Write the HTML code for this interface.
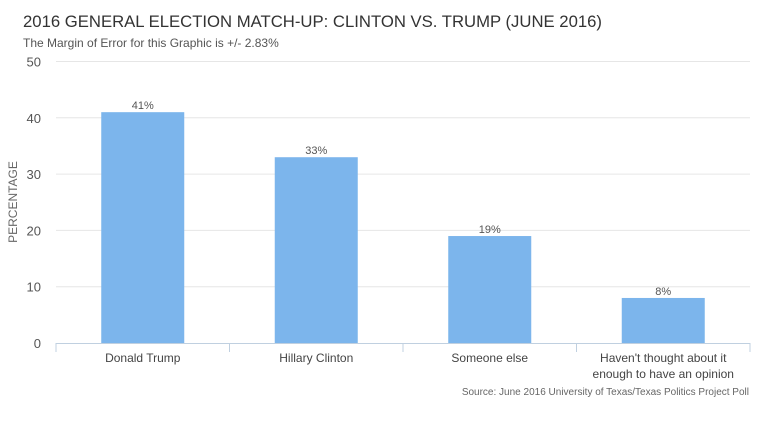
<!DOCTYPE html>
<html><head><meta charset="utf-8"><style>
body{margin:0;background:#fff;font-family:"Liberation Sans",sans-serif;}
svg text{font-family:"Liberation Sans",sans-serif;}
</style></head><body>
<svg id="chart" width="782" height="418" xmlns="http://www.w3.org/2000/svg">
<text x="23" y="27" font-size="16.7" fill="#333" textLength="579" lengthAdjust="spacingAndGlyphs">2016 GENERAL ELECTION MATCH-UP: CLINTON VS. TRUMP (JUNE 2016)</text>
<text x="23" y="47" font-size="12" fill="#555">The Margin of Error for this Graphic is +/- 2.83%</text>
<text transform="translate(17,202) rotate(-90)" text-anchor="middle" font-size="12" fill="#666">PERCENTAGE</text>
<g id="grid"></g><g id="bars"></g><g id="xaxis"></g>
<text x="749" y="395" text-anchor="end" font-size="10" fill="#666">Source: June 2016 University of Texas/Texas Politics Project Poll</text>
</svg>
<script>
const categories=["Donald Trump","Hillary Clinton","Someone else","Haven't thought about it|enough to have an opinion"];
const values=[41,33,19,8];
const valueLabels=["41%","33%","19%","8%"];
const yTicks=[0,10,20,30,40,50];
const NS="http://www.w3.org/2000/svg";
const x0=56,x1=750,yBase=343,yTop=61.5,yMax=50;
const y=v=>yBase-(v/yMax)*(yBase-yTop);
const bw=(x1-x0)/categories.length;
function mk(t,a,p){const e=document.createElementNS(NS,t);for(const k in a)e.setAttribute(k,a[k]);p.appendChild(e);return e;}
const grid=document.getElementById('grid'),bars=document.getElementById('bars'),xa=document.getElementById('xaxis');
yTicks.forEach(t=>{
 if(t>0){const l=mk('line',{x1:x0,x2:x1,y1:y(t),y2:y(t),stroke:'#e6e6e6'},grid);
 
 }
 const tx=mk('text',{x:41,y:y(t)+5,'text-anchor':'end','font-size':13,fill:'#555'},grid);tx.textContent=t;
 
 
});
values.forEach((v,i)=>{
 const cx=x0+bw*(i+0.5);
 const r=mk('rect',{x:cx-41.5,y:y(v),width:83,height:yBase-y(v),fill:'#7cb5ec'},bars);
 
 
 const t=mk('text',{x:cx,y:y(v)-3,'text-anchor':'middle','font-size':11,fill:'#555'},bars);t.textContent=valueLabels[i];
 
 
 categories[i].split('|').forEach((ln,j)=>{
  const c=mk('text',{x:cx,y:362+j*16,'text-anchor':'middle','font-size':12,fill:'#444'},xa);c.textContent=ln;
  
  
 });
});
const ax=mk('line',{x1:x0,x2:x1,y1:yBase+0.5,y2:yBase+0.5,stroke:'#c0d0e0'},xa);


for(let i=0;i<=categories.length;i++){
 const tk=mk('line',{x1:x0+bw*i,x2:x0+bw*i,y1:yBase,y2:yBase+9,stroke:'#c0d0e0'},xa);
 
 
}
</script>
</body></html>
